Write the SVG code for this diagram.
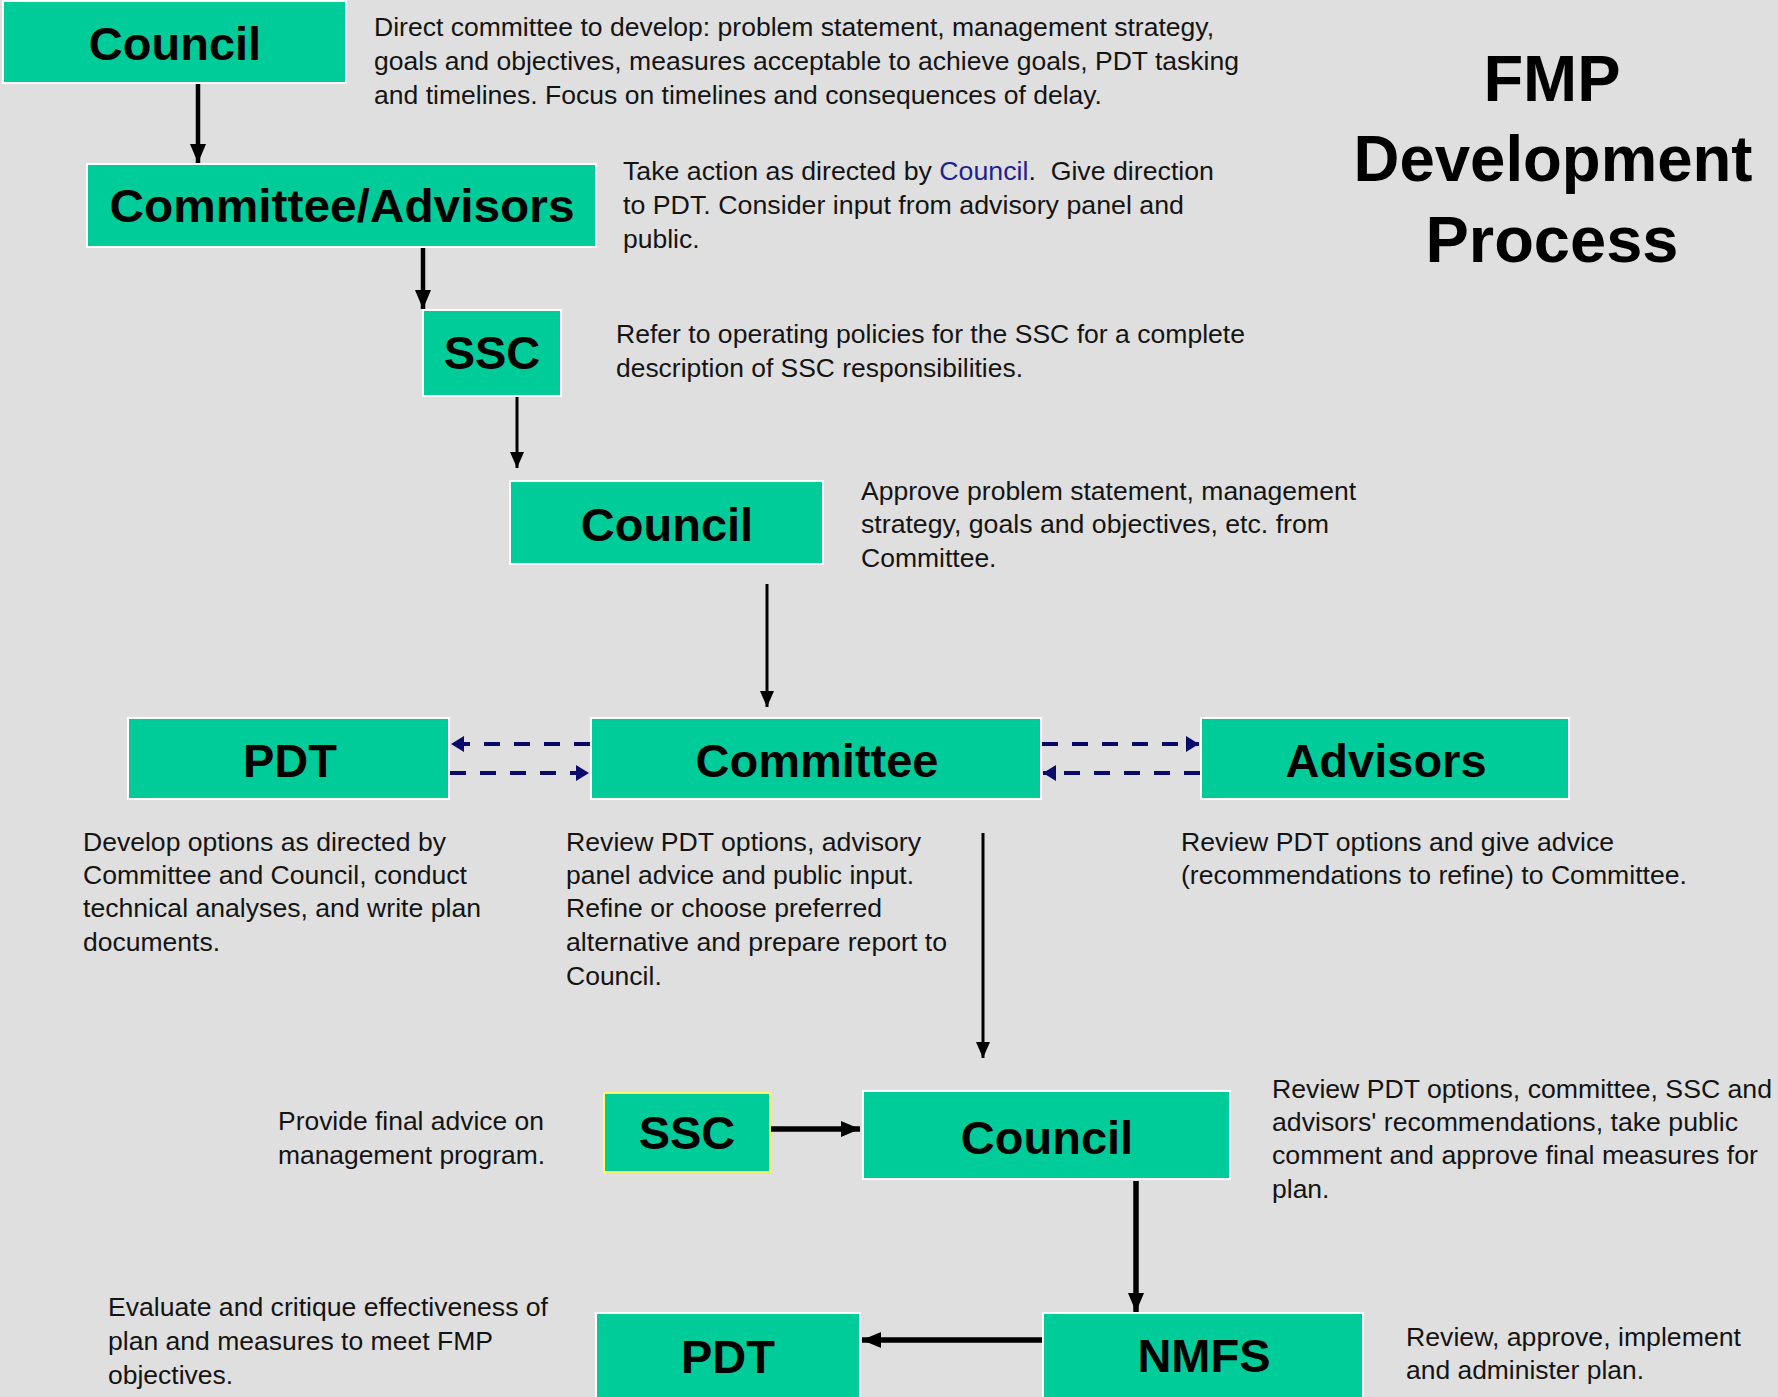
<svg xmlns="http://www.w3.org/2000/svg" width="1778" height="1397" viewBox="0 0 1778 1397">
<defs>
<style>
.bg{fill:#dfdfdf}
.box{fill:#00cc99;stroke:#ffffff;stroke-width:2}
.boxy{fill:#00cc99;stroke:#ffff66;stroke-width:2}
.lbl{font-family:"Liberation Sans",Arial,sans-serif;font-weight:bold;font-size:47px;fill:#000;text-anchor:middle}
.ttl{font-family:"Liberation Sans",Arial,sans-serif;font-weight:bold;font-size:65px;fill:#000;text-anchor:middle}
.txt{font-family:"Liberation Sans",Arial,sans-serif;font-size:26.5px;fill:#141414}
.blue{fill:#1f1f8f}
.a-thick{stroke:#000;stroke-width:5.5;fill:none}
.a-med{stroke:#000;stroke-width:4.5;fill:none}
.a-thin{stroke:#000;stroke-width:3;fill:none}
.dash{stroke:#0a0a6b;stroke-width:4;stroke-dasharray:16 14;fill:none}
</style>
<marker id="hBig" markerUnits="userSpaceOnUse" markerWidth="20" markerHeight="16" refX="19" refY="8" orient="auto">
<path d="M0,0 L19,8 L0,16 z" fill="#000"/>
</marker>
<marker id="hSmall" markerUnits="userSpaceOnUse" markerWidth="17" markerHeight="14" refX="16" refY="7" orient="auto">
<path d="M0,0 L16,7 L0,14 z" fill="#000"/>
</marker>
<marker id="hNavy" markerUnits="userSpaceOnUse" markerWidth="14" markerHeight="16" refX="13" refY="8" orient="auto">
<path d="M0,0 L13,8 L0,16 z" fill="#0a0a6b"/>
</marker>
</defs>
<rect class="bg" x="0" y="0" width="1778" height="1397"/>

<g id="title">
<text class="ttl" x="1552" y="101">FMP</text>
<text class="ttl" x="1553" y="181" textLength="399" lengthAdjust="spacingAndGlyphs">Development</text>
<text class="ttl" x="1552" y="262">Process</text>
</g>

<g id="connectors">
<line class="a-med" x1="198" y1="84" x2="198" y2="163" marker-end="url(#hBig)"/>
<line class="a-med" x1="423" y1="248" x2="423" y2="309" marker-end="url(#hBig)"/>
<line class="a-thin" x1="517" y1="397" x2="517" y2="468" marker-end="url(#hSmall)"/>
<line class="a-thin" x1="767" y1="584" x2="767" y2="707" marker-end="url(#hSmall)"/>
<line class="a-thin" x1="983" y1="833" x2="983" y2="1058" marker-end="url(#hSmall)"/>
<line class="a-thick" x1="771" y1="1129" x2="860" y2="1129" marker-end="url(#hBig)"/>
<line class="a-thick" x1="1136" y1="1181" x2="1136" y2="1312" marker-end="url(#hBig)"/>
<line class="a-thick" x1="1043" y1="1340" x2="862" y2="1340" marker-end="url(#hBig)"/>
<line class="dash" x1="590" y1="744" x2="451" y2="744" marker-end="url(#hNavy)"/>
<line class="dash" x1="450" y1="773" x2="589" y2="773" marker-end="url(#hNavy)"/>
<line class="dash" x1="1042" y1="744" x2="1199" y2="744" marker-end="url(#hNavy)"/>
<line class="dash" x1="1200" y1="773" x2="1043" y2="773" marker-end="url(#hNavy)"/>
</g>

<g id="node-council1">
<rect class="box" x="3" y="1" width="343" height="82"/>
<text class="lbl" x="175" y="60">Council</text>
</g>
<g id="node-committee-advisors">
<rect class="box" x="87" y="164" width="509" height="83"/>
<text class="lbl" x="342" y="222" textLength="465" lengthAdjust="spacingAndGlyphs">Committee/Advisors</text>
</g>
<g id="node-ssc1">
<rect class="box" x="423" y="310" width="138" height="86"/>
<text class="lbl" x="492" y="369">SSC</text>
</g>
<g id="node-council2">
<rect class="box" x="510" y="481" width="313" height="83"/>
<text class="lbl" x="667" y="541">Council</text>
</g>
<g id="node-pdt1">
<rect class="box" x="128" y="718" width="321" height="81"/>
<text class="lbl" x="290" y="777">PDT</text>
</g>
<g id="node-committee">
<rect class="box" x="591" y="718" width="450" height="81"/>
<text class="lbl" x="817" y="777">Committee</text>
</g>
<g id="node-advisors">
<rect class="box" x="1201" y="718" width="368" height="81"/>
<text class="lbl" x="1386" y="777">Advisors</text>
</g>
<g id="node-ssc2">
<rect class="boxy" x="604" y="1093" width="166" height="79"/>
<text class="lbl" x="687" y="1149">SSC</text>
</g>
<g id="node-council3">
<rect class="box" x="863" y="1091" width="367" height="88"/>
<text class="lbl" x="1047" y="1154">Council</text>
</g>
<g id="node-pdt2">
<rect class="box" x="596" y="1313" width="264" height="86"/>
<text class="lbl" x="728" y="1373">PDT</text>
</g>
<g id="node-nmfs">
<rect class="box" x="1043" y="1313" width="320" height="86"/>
<text class="lbl" x="1204" y="1372">NMFS</text>
</g>

<g id="notes">
<text class="txt" x="374" y="36" textLength="840" lengthAdjust="spacingAndGlyphs">Direct committee to develop: problem statement, management strategy,</text>
<text class="txt" x="374" y="70" textLength="865" lengthAdjust="spacingAndGlyphs">goals and objectives, measures acceptable to achieve goals, PDT tasking</text>
<text class="txt" x="374" y="104" textLength="728" lengthAdjust="spacingAndGlyphs">and timelines. Focus on timelines and consequences of delay.</text>

<text class="txt" x="623" y="180" textLength="591" lengthAdjust="spacingAndGlyphs">Take action as directed by <tspan class="blue">Council</tspan>.&#160; Give direction</text>
<text class="txt" x="623" y="214" textLength="561" lengthAdjust="spacingAndGlyphs">to PDT. Consider input from advisory panel and</text>
<text class="txt" x="623" y="248">public.</text>

<text class="txt" x="616" y="343" textLength="629" lengthAdjust="spacingAndGlyphs">Refer to operating policies for the SSC for a complete</text>
<text class="txt" x="616" y="377" textLength="407" lengthAdjust="spacingAndGlyphs">description of SSC responsibilities.</text>

<text class="txt" x="861" y="500" textLength="495" lengthAdjust="spacingAndGlyphs">Approve problem statement, management</text>
<text class="txt" x="861" y="533" textLength="468" lengthAdjust="spacingAndGlyphs">strategy, goals and objectives, etc. from</text>
<text class="txt" x="861" y="567">Committee.</text>

<text class="txt" x="83" y="851" textLength="363" lengthAdjust="spacingAndGlyphs">Develop options as directed by</text>
<text class="txt" x="83" y="884" textLength="384" lengthAdjust="spacingAndGlyphs">Committee and Council, conduct</text>
<text class="txt" x="83" y="917" textLength="398" lengthAdjust="spacingAndGlyphs">technical analyses, and write plan</text>
<text class="txt" x="83" y="951">documents.</text>

<text class="txt" x="566" y="851" textLength="355" lengthAdjust="spacingAndGlyphs">Review PDT options, advisory</text>
<text class="txt" x="566" y="884" textLength="348" lengthAdjust="spacingAndGlyphs">panel advice and public input.</text>
<text class="txt" x="566" y="917" textLength="316" lengthAdjust="spacingAndGlyphs">Refine or choose preferred</text>
<text class="txt" x="566" y="951" textLength="381" lengthAdjust="spacingAndGlyphs">alternative and prepare report to</text>
<text class="txt" x="566" y="985">Council.</text>

<text class="txt" x="1181" y="851" textLength="433" lengthAdjust="spacingAndGlyphs">Review PDT options and give advice</text>
<text class="txt" x="1181" y="884" textLength="506" lengthAdjust="spacingAndGlyphs">(recommendations to refine) to Committee.</text>

<text class="txt" x="278" y="1130" textLength="266" lengthAdjust="spacingAndGlyphs">Provide final advice on</text>
<text class="txt" x="278" y="1164" textLength="267" lengthAdjust="spacingAndGlyphs">management program.</text>

<text class="txt" x="1272" y="1098" textLength="500" lengthAdjust="spacingAndGlyphs">Review PDT options, committee, SSC and</text>
<text class="txt" x="1272" y="1131" textLength="466" lengthAdjust="spacingAndGlyphs">advisors' recommendations, take public</text>
<text class="txt" x="1272" y="1164" textLength="486" lengthAdjust="spacingAndGlyphs">comment and approve final measures for</text>
<text class="txt" x="1272" y="1198">plan.</text>

<text class="txt" x="108" y="1316" textLength="440" lengthAdjust="spacingAndGlyphs">Evaluate and critique effectiveness of</text>
<text class="txt" x="108" y="1350" textLength="385" lengthAdjust="spacingAndGlyphs">plan and measures to meet FMP</text>
<text class="txt" x="108" y="1384">objectives.</text>

<text class="txt" x="1406" y="1346" textLength="335" lengthAdjust="spacingAndGlyphs">Review, approve, implement</text>
<text class="txt" x="1406" y="1379" textLength="238" lengthAdjust="spacingAndGlyphs">and administer plan.</text>
</g>
</svg>
